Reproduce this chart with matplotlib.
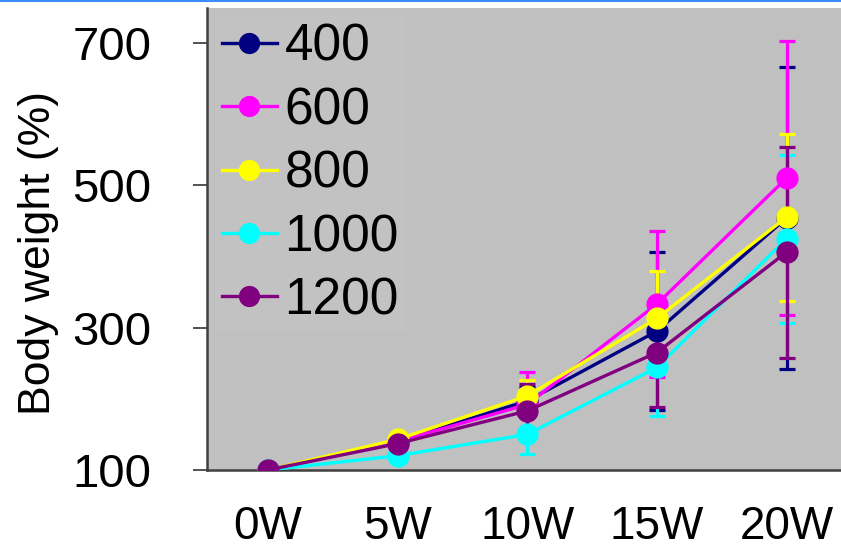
import matplotlib
matplotlib.use("Agg")
import matplotlib.pyplot as plt
from matplotlib.lines import Line2D

plt.rcParams['font.family'] = ['Liberation Sans', 'DejaVu Sans']

weeks = ['0W', '5W', '10W', '15W', '20W']
labels = ['400', '600', '800', '1000', '1200']
colors = ['#000080', '#ff00ff', '#ffff00', '#00ffff', '#800080']

s400 = [100, 140, 197, 295, 454]
s600 = [100, 140, 192, 333, 510]
s800 = [100, 143, 204, 313, 455]
s1000 = [100, 120, 150, 244, 425]
s1200 = [100, 137, 183, 265, 406]

e400 = [0, 4, 20, 111, 212]
e600 = [0, 4, 46, 103, 192]
e800 = [0, 4, 23, 66, 117]
e1000 = [0, 4, 27, 68, 118]
e1200 = [0, 4, 38, 76, 148]

series = [s400, s600, s800, s1000, s1200]
errors = [e400, e600, e800, e1000, e1200]

fig = plt.figure(figsize=(8.41, 5.5), dpi=100)
ax = fig.add_axes([0.2461, 0.1455, 0.7539, 0.84])
ax.set_facecolor('#c0c0c0')

x = list(range(len(weeks)))
for i, (ys, es, c, lab) in enumerate(zip(series, errors, colors, labels)):
    ax.errorbar(x, ys, yerr=es, fmt='none', ecolor=c, elinewidth=2.3,
                capsize=5.5, capthick=2.3, zorder=2 + i * 0.1)
for i, (ys, c, lab) in enumerate(zip(series, colors, labels)):
    ax.plot(x, ys, '-o', color=c, lw=2.4, markersize=15, label=lab,
            zorder=3 + i * 0.1)

ax.set_xlim(-0.47, 4.42)
ax.set_ylim(100, 749)
ax.set_yticks([100, 300, 500, 700])
ax.set_xticks(x)
ax.set_xticklabels(weeks)
ax.tick_params(axis='y', labelsize=34, length=10, width=1.2, color='#333333', pad=30)
ax.tick_params(axis='x', labelsize=33, length=0, pad=25)
for s in ['top', 'right']:
    ax.spines[s].set_visible(False)
for s in ['left', 'bottom']:
    ax.spines[s].set_color('#404040')
    ax.spines[s].set_linewidth(1.8)

ax.set_ylabel('Body weight (%)', fontsize=32)
ax.yaxis.set_label_coords(-0.234, 0.47)

leg = ax.legend(loc='upper left', fontsize=37, frameon=True, facecolor='#c2c2c2',
                edgecolor='none', framealpha=1, handlelength=1.07, handletextpad=0.15,
                labelspacing=0.28, borderpad=0.14, borderaxespad=0.15, markerscale=0.95)
leg.get_frame().set_boxstyle('square', pad=0)

fig.add_artist(Line2D([0, 1], [0.998, 0.998], color='#3c8cff', lw=1.5,
                      transform=fig.transFigure))

fig.savefig('out.png', dpi=100)
